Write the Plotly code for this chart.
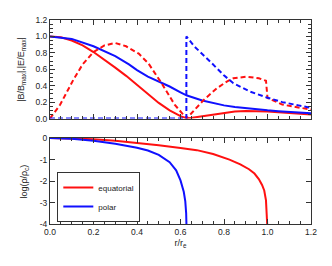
import plotly.graph_objects as go

# ---- top panel: |B/Bmax|, |E/Emax| ----
r_bs_eq = [0, 0.05, 0.1, 0.15, 0.2, 0.25, 0.3, 0.35, 0.4, 0.45, 0.5, 0.55, 0.6, 0.63,
           0.65, 0.7, 0.75, 0.8, 0.85, 0.9, 0.95, 1.0, 1.05, 1.1, 1.15, 1.2]
b_eq = [1.0, 0.99, 0.95, 0.89, 0.81, 0.72, 0.62, 0.52, 0.41, 0.30, 0.19, 0.10, 0.03, 0.0,
        0.008, 0.03, 0.05, 0.07, 0.085, 0.092, 0.092, 0.087, 0.078, 0.068, 0.058, 0.048]

r_bs_pol = [0, 0.1, 0.2, 0.3, 0.363, 0.4, 0.45, 0.5, 0.55, 0.6, 0.63, 0.7, 0.75, 0.8,
            0.85, 0.9, 0.95, 1.0, 1.05, 1.1, 1.15, 1.2]
b_pol = [1.0, 0.97, 0.88, 0.76, 0.66, 0.59, 0.51, 0.45, 0.39, 0.32, 0.28, 0.22, 0.19, 0.16,
         0.14, 0.125, 0.112, 0.10, 0.09, 0.08, 0.072, 0.065]

r_e_eq = [0, 0.047, 0.107, 0.15, 0.2, 0.25, 0.3, 0.35, 0.408, 0.453, 0.513, 0.573, 0.628,
          0.66, 0.708, 0.768, 0.813, 0.843, 0.903, 0.96, 0.993, 1.0, 1.068, 1.13, 1.2]
e_eq = [0, 0.17, 0.47, 0.66, 0.81, 0.89, 0.92, 0.88, 0.79, 0.67, 0.43, 0.17, 0.0,
        0.09, 0.23, 0.37, 0.45, 0.49, 0.51, 0.49, 0.46, 0.25, 0.17, 0.14, 0.11]

r_e_pol = [0, 0.627, 0.627, 0.663, 0.738, 0.798, 0.843, 0.918, 0.993, 1.068, 1.143, 1.2]
e_pol = [0, 0, 1.0, 0.88, 0.69, 0.53, 0.43, 0.33, 0.26, 0.20, 0.16, 0.13]

# ---- bottom panel: log(rho/rho_c) ----
r_rho_eq = [0, 0.1, 0.2, 0.3, 0.4, 0.5, 0.6, 0.675, 0.75, 0.825, 0.875, 0.915, 0.94, 0.96,
            0.975, 0.985, 0.993, 0.997, 1.0]
rho_eq = [0, -0.01, -0.05, -0.12, -0.22, -0.33, -0.46, -0.56, -0.74, -1.0, -1.22, -1.45,
          -1.65, -1.91, -2.18, -2.44, -2.9, -3.4, -4.3]

r_rho_pol = [0, 0.1, 0.2, 0.3, 0.4, 0.45, 0.5, 0.55, 0.58, 0.6, 0.615, 0.622, 0.626, 0.628]
rho_pol = [0, -0.03, -0.12, -0.26, -0.45, -0.58, -0.78, -1.12, -1.5, -1.97, -2.5, -2.95,
           -3.5, -4.3]

x_ticks = [0, 0.2, 0.4, 0.6, 0.8, 1.0, 1.2]
y_top_ticks = [0, 0.2, 0.4, 0.6, 0.8, 1.0, 1.2]
y_bot_vals = [0, -1, -2, -3, -4]
y_bot_text = ["0", "-1", "-2", "-3", "-4"]

RED = "#ff1010"
BLUE = "#1010ff"
FONT = "Liberation Sans"
AX = "#333333"

fig = go.Figure()
dash = "5px,3px"
fig.add_trace(go.Scatter(x=r_bs_eq, y=b_eq, mode="lines", line=dict(color=RED, width=2),
                         xaxis="x2", yaxis="y2", showlegend=False))
fig.add_trace(go.Scatter(x=r_bs_pol, y=b_pol, mode="lines", line=dict(color=BLUE, width=2),
                         xaxis="x2", yaxis="y2", showlegend=False))
fig.add_trace(go.Scatter(x=r_e_eq, y=e_eq, mode="lines", line=dict(color=RED, width=2, dash=dash),
                         xaxis="x2", yaxis="y2", showlegend=False))
fig.add_trace(go.Scatter(x=r_e_pol, y=e_pol, mode="lines", line=dict(color=BLUE, width=2, dash=dash),
                         xaxis="x2", yaxis="y2", showlegend=False))

fig.add_trace(go.Scatter(x=r_rho_eq, y=rho_eq, mode="lines", line=dict(color=RED, width=2),
                         name="equatorial"))
fig.add_trace(go.Scatter(x=r_rho_pol, y=rho_pol, mode="lines", line=dict(color=BLUE, width=2),
                         name="polar"))

common = dict(showline=True, linecolor=AX, linewidth=1, mirror="ticks", ticks="inside",
              tickcolor=AX, ticklen=5, tickwidth=1, showgrid=False, zeroline=False,
              tickfont=dict(family=FONT, size=8.5, color="#222"))

fig.update_layout(
    width=316, height=250,
    margin=dict(l=42, r=8, t=7, b=34),
    plot_bgcolor="white", paper_bgcolor="white",
    font=dict(family=FONT, size=9, color="#222"),
    xaxis=dict(domain=[0, 1], range=[0, 1.2], tickvals=x_ticks, tickformat=".1f",
               minor=dict(dtick=0.05, ticklen=3, ticks="inside", tickcolor=AX),
               title=dict(text="r/r<sub>e</sub>", standoff=3, font=dict(family=FONT, size=9)),
               anchor="y", **common),
    yaxis=dict(domain=[0, 0.421], range=[-4, 0], tickvals=y_bot_vals, ticktext=y_bot_text,
               anchor="x", **common),
    yaxis3=dict(domain=[0, 0.421], range=[-4, 0], overlaying="y", anchor="x",
                tickmode="linear", tick0=0, dtick=1, showticklabels=False,
                showline=True, linecolor=AX, mirror="ticks", ticks="inside", ticklen=5,
                tickcolor=AX, showgrid=False, zeroline=False,
                minor=dict(dtick=0.1, ticklen=3, ticks="inside", tickcolor=AX)),
    xaxis2=dict(domain=[0, 1], range=[0, 1.2], tickvals=x_ticks, showticklabels=False,
                minor=dict(dtick=0.05, ticklen=3, ticks="inside", tickcolor=AX),
                anchor="y2", **common),
    yaxis2=dict(domain=[0.517, 1], range=[0, 1.2], tickvals=y_top_ticks, tickformat=".1f",
                minor=dict(dtick=0.05, ticklen=3, ticks="inside", tickcolor=AX),
                anchor="x2", **common),
    legend=dict(x=0.028, y=0.01, xanchor="left", yanchor="bottom", bordercolor="#333",
                borderwidth=1, bgcolor="white", font=dict(family=FONT, size=8),
                itemwidth=30, tracegroupgap=0),
    annotations=[
        dict(text="|B/B<sub>max</sub>|,|E/E<sub>max</sub>|", xref="paper", yref="paper",
             x=-0.109, y=0.7585, xanchor="center", yanchor="middle", textangle=-90,
             showarrow=False, font=dict(family=FONT, size=9, color="#222")),
        dict(text="log(ρ/ρ<sub>c</sub>)", xref="paper", yref="paper",
             x=-0.098, y=0.21, xanchor="center", yanchor="middle", textangle=-90,
             showarrow=False, font=dict(family=FONT, size=9, color="#222")),
    ],
)

fig.write_html("out.html")
